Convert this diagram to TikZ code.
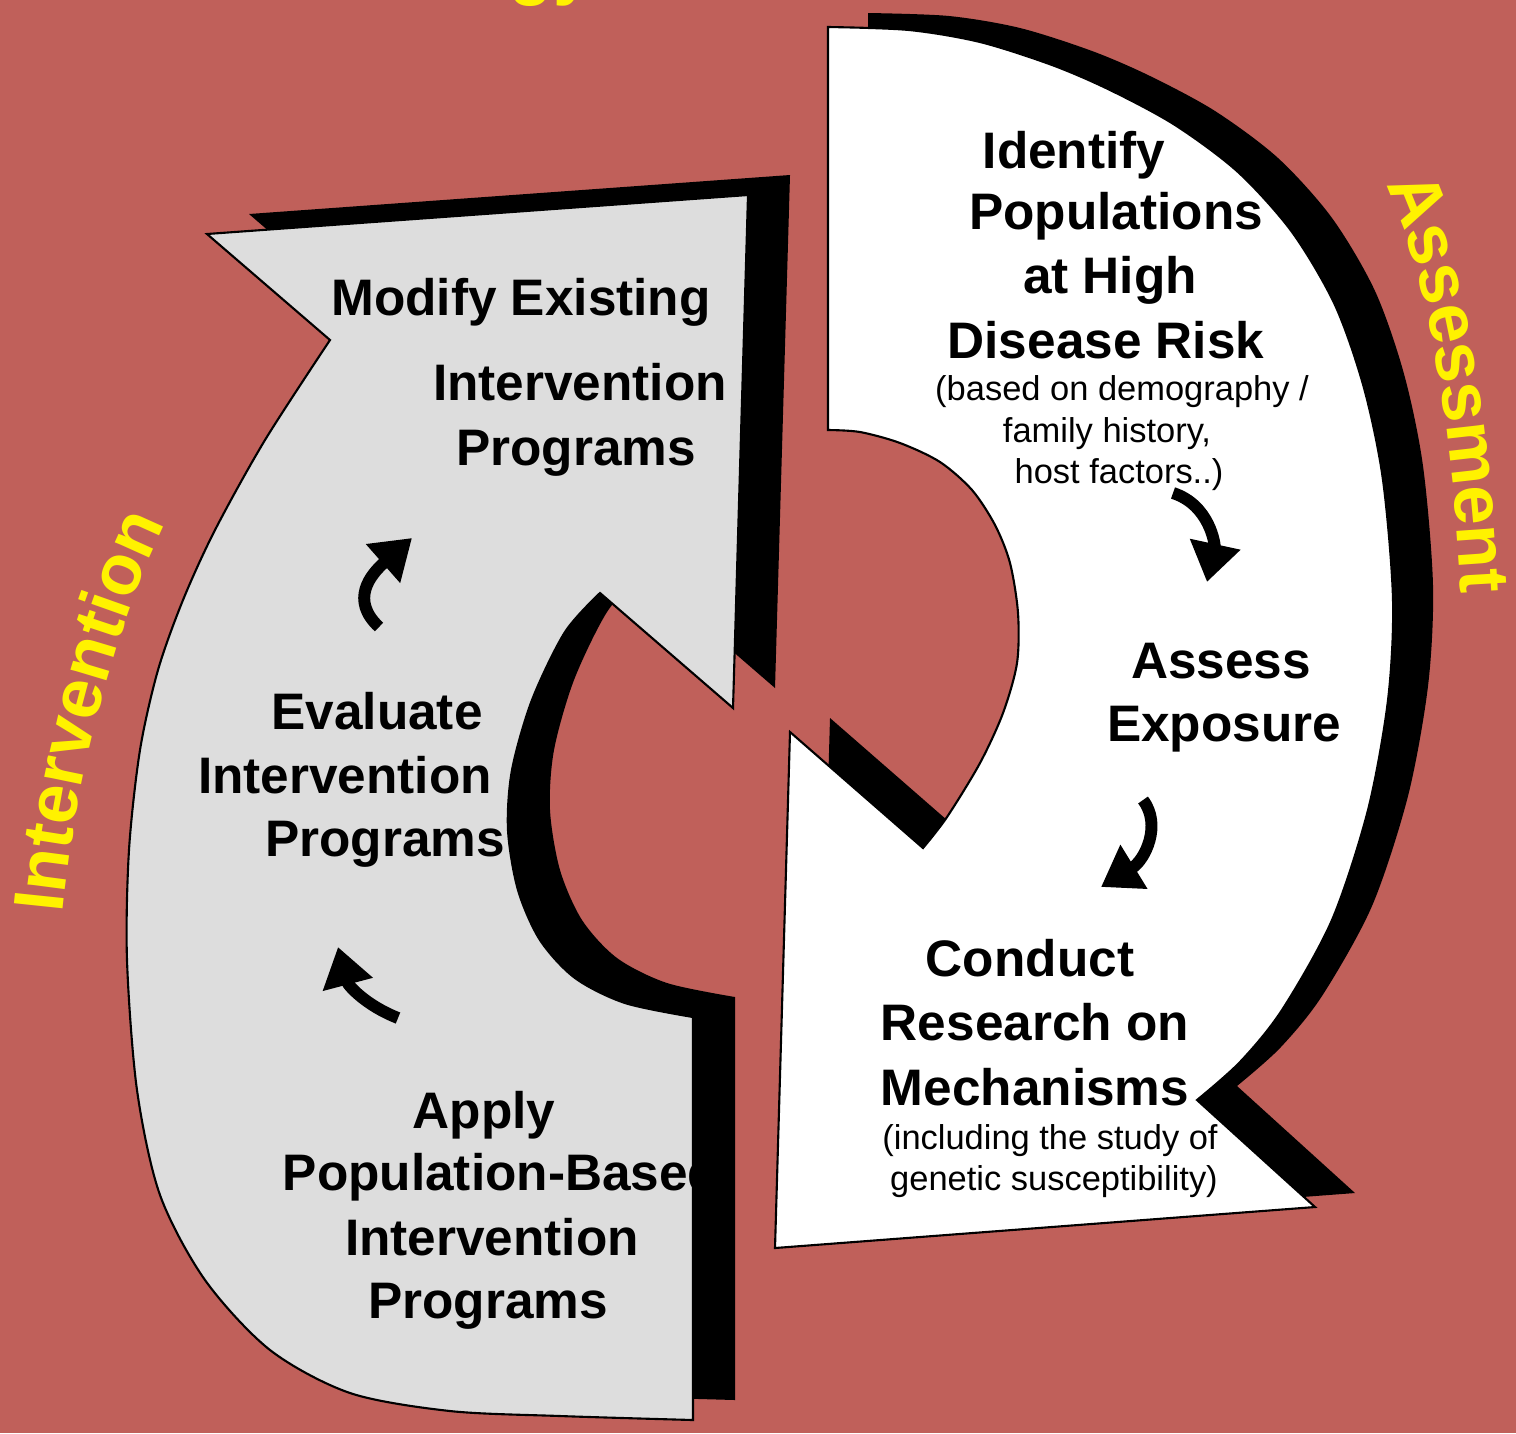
\documentclass[tikz,border=0pt]{standalone}
\usepackage{fontspec}
\setmainfont{Liberation Sans}
\usepackage{tikz}
\usetikzlibrary{arrows.meta,decorations.text}

\definecolor{bgred}{RGB}{192,96,90}
\definecolor{boxgray}{RGB}{221,221,221}

\newcommand{\bigfont}{\bfseries\fontsize{14.6}{17.6}\selectfont}
\newcommand{\smallfont}{\fontsize{9.8}{12}\selectfont}
\newcommand{\labelfont}{\bfseries\fontsize{20.2}{24}\selectfont}

% outline of the grey (intervention) arrow, pixel units
\def\greyshape{(207,234) -- (748,195) -- (733,708) -- (600,593)
    -- plot[smooth] coordinates {(600,593) (565,632) (532,700) (512,770) (508,830)
        (518,890) (540,940) (575,978) (625,1003) (693,1017)}
    -- (693,1420)
    -- plot[smooth] coordinates {(693,1420) (560,1416) (450,1411) (350,1393) (270,1350)
        (205,1280) (160,1195) (137,1090) (127,960) (129,850) (140,750) (158,670)
        (183,600) (215,530) (265,440) (330,340)} -- cycle}

% outline of the white (assessment) arrow
\def\whiteshape{(828,27)
    -- plot[smooth] coordinates {(828,27) (909,30) (980,42) (1052,65) (1110,90)
        (1175,125) (1238,172) (1292,232) (1335,305) (1364,388) (1383,480) (1393,600)
        (1388,700) (1368,810) (1332,920) (1282,1010) (1240,1062) (1197,1100)}
    -- (1315,1207) -- (775,1248) -- (790,732) -- (923,848)
    -- plot[smooth] coordinates {(923,848) (947,817) (980,763) (1003,713) (1017,663)
        (1018,613) (1010,563) (995,525) (972,490) (940,462) (900,443) (860,432) (828,430)}
    -- cycle}

\begin{document}
\begin{tikzpicture}[x=0.01cm, y=-0.01cm,
    bigtext/.style={font=\bigfont, anchor=base, inner sep=0pt},
    smalltext/.style={font=\smallfont, anchor=base, inner sep=0pt},
    bendarrow/.style={line width=3.4pt, -{Triangle[length=11pt,width=14pt]}},
    outline/.style={draw=black, line width=0.6pt}]

    % Background
    \useasboundingbox (0,0) rectangle (1516,1433);
    \fill[bgred] (0,0) rectangle (1516,1433);
    \clip (0,0) rectangle (1516,1433);

    % Title, cut off at the top edge
    \node[anchor=base west, inner sep=0pt, font=\labelfont, text=yellow] (title) at (509,-9) {gy};

    % Curved side labels
    \coordinate (int-s) at (60,945);
    \coordinate (int-e) at (180,495);
    \path[decorate, decoration={text along path, text align=center,
        text={|\labelfont\color{yellow}|Intervention}}]
        (int-s) .. controls (70,800) and (112,620) .. (int-e);
    \coordinate (ass-s) at (1378,170);
    \coordinate (ass-e) at (1462,610);
    \path[decorate, decoration={text along path, text align=center,
        text={|\labelfont\color{yellow}|Assessment}}]
        (ass-s) .. controls (1422,250) and (1452,400) .. (ass-e);

    % White arrow (assessment)
    \fill[black, shift={(40,-14)}] \whiteshape;
    \path[outline, fill=white] \whiteshape;

    \node[bigtext] (identify) at (1074,168) {Identify};
    \node[bigtext] (popul) at (1116,229) {Populations};
    \node[bigtext] (athigh) at (1110,293) {at High};
    \node[bigtext] (risk) at (1106,358) {Disease Risk};
    \node[smalltext] (based) at (1122,400) {(based on demography /};
    \node[smalltext] (family) at (1107,442) {family history,};
    \node[smalltext] (host) at (1119,483) {host factors..)};

    \node[bigtext] (assess) at (1221,678) {Assess};
    \node[bigtext] (exposure) at (1224,741) {Exposure};

    \node[bigtext] (conduct) at (1030,976) {Conduct};
    \node[bigtext] (research) at (1035,1040) {Research on};
    \node[bigtext] (mech) at (1035,1105) {Mechanisms};
    \node[smalltext] (including) at (1050,1149) {(including the study of};
    \node[smalltext] (genetic) at (1054,1190) {genetic susceptibility)};

    % Grey arrow (intervention)
    \fill[black, shift={(42,-20)}] \greyshape;
    \path[outline, fill=boxgray] \greyshape;

    \begin{scope}
        \clip \greyshape;
        \node[bigtext] (modify) at (521,315) {Modify Existing};
        \node[bigtext] (modint) at (580,400) {Intervention};
        \node[bigtext] (modprog) at (576,465) {Programs};

        \node[bigtext] (evaluate) at (377,729) {Evaluate};
        \node[bigtext] (evalint) at (345,793) {Intervention};
        \node[bigtext] (evalprog) at (385,856) {Programs};

        \node[bigtext] (apply) at (484,1128) {Apply};
        \node[bigtext] (popbased) at (501,1190) {Population-Based};
        \node[bigtext] (applyint) at (492,1255) {Intervention};
        \node[bigtext] (applyprog) at (488,1318) {Programs};
    \end{scope}

    % Small curved arrows between the steps
    \coordinate (up1-s) at (379,627);
    \coordinate (up1-e) at (412,538);
    \coordinate (up2-s) at (398,1018);
    \coordinate (up2-e) at (338,947);
    \coordinate (dn1-s) at (1173,493);
    \coordinate (dn1-e) at (1207,582);
    \coordinate (dn2-s) at (1143,800);
    \coordinate (dn2-e) at (1101,887);
    \draw[bendarrow] (up1-s) .. controls (350,600) and (370,575) .. (up1-e);
    \draw[bendarrow] (up2-s) .. controls (365,1005) and (348,985) .. (up2-e);
    \draw[bendarrow] (dn1-s) .. controls (1210,505) and (1215,545) .. (dn1-e);
    \draw[bendarrow] (dn2-s) .. controls (1162,825) and (1145,860) .. (dn2-e);
\end{tikzpicture}
\end{document}
